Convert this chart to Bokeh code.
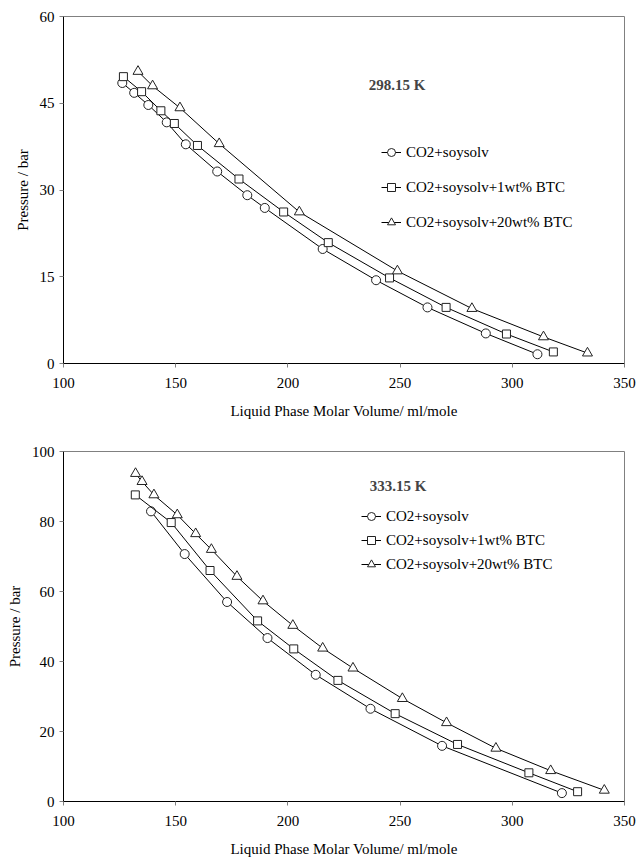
from bokeh.plotting import figure
from bokeh.layouts import column
from bokeh.models import Legend, LegendItem, Label, FixedTicker, Range1d
from bokeh.embed import file_html
from bokeh.resources import INLINE

# ---------------- data: 298.15 K ----------------
t1_x_circ = [126.2, 131.5, 137.8, 146.0, 154.5, 168.5, 181.9, 189.7, 215.5, 239.3, 262.2, 288.2, 311.2]
t1_y_circ = [48.5, 46.8, 44.7, 41.7, 37.9, 33.2, 29.1, 26.9, 19.8, 14.4, 9.7, 5.2, 1.6]
t1_x_sq = [126.7, 134.8, 143.4, 149.4, 159.7, 178.2, 198.1, 218.0, 245.3, 270.5, 297.4, 318.3]
t1_y_sq = [49.6, 47.0, 43.7, 41.5, 37.7, 31.9, 26.2, 20.9, 14.8, 9.7, 5.1, 2.0]
t1_x_tri = [133.2, 139.7, 151.9, 169.4, 205.1, 248.8, 282.0, 313.9, 333.5]
t1_y_tri = [50.5, 48.0, 44.2, 38.0, 26.2, 16.0, 9.5, 4.6, 1.8]

# ---------------- data: 333.15 K ----------------
t2_x_circ = [139.0, 154.0, 172.9, 190.9, 212.4, 236.8, 268.7, 322.1]
t2_y_circ = [82.9, 70.7, 57.0, 46.7, 36.2, 26.5, 15.9, 2.4]
t2_x_sq = [132.0, 148.0, 165.3, 186.5, 202.6, 222.3, 247.8, 275.6, 307.4, 329.1]
t2_y_sq = [87.6, 79.7, 66.0, 51.6, 43.6, 34.6, 25.1, 16.3, 8.2, 2.8]
t2_x_tri = [132.1, 135.0, 140.3, 150.7, 158.9, 165.9, 177.3, 188.9, 202.2, 215.5, 229.0, 251.0, 270.7, 292.7, 317.1, 341.0]
t2_y_tri = [93.7, 91.4, 87.6, 81.9, 76.5, 72.0, 64.3, 57.3, 50.3, 43.8, 38.1, 29.4, 22.5, 15.2, 8.8, 3.2]

series_names = ["CO2+soysolv", "CO2+soysolv+1wt% BTC", "CO2+soysolv+20wt% BTC"]
x_ticks = [100, 150, 200, 250, 300, 350]
y_ticks_1 = [0, 15, 30, 45, 60]
y_ticks_2 = [0, 20, 40, 60, 80, 100]
titles = ["298.15 K", "333.15 K"]
title_pos = [(236, 48.2), (236.5, 90.2)]

FONT = "Liberation Serif"


def make_panel(data, yticks, title, tpos, height, borders, legend_loc, legend_spacing):
    top, bottom, left, right = borders
    p = figure(width=641, height=height, output_backend="svg", toolbar_location=None,
               x_range=Range1d(100, 350), y_range=Range1d(yticks[0], yticks[-1]),
               min_border_top=top, min_border_bottom=bottom,
               min_border_left=left, min_border_right=right)
    p.grid.visible = False
    p.outline_line_color = "#808080"
    p.outline_line_width = 1
    p.background_fill_color = "white"
    p.border_fill_color = "white"

    for ax in (p.xaxis[0], p.yaxis[0]):
        ax.axis_line_color = "black"
        ax.axis_line_width = 1
        ax.major_tick_line_color = "#808080"
        ax.major_tick_in = 0
        ax.major_tick_out = 4
        ax.minor_tick_line_color = None
        ax.major_label_text_font = FONT
        ax.major_label_text_font_size = "15px"
        ax.major_label_text_color = "black"
        ax.axis_label_text_font = FONT
        ax.axis_label_text_font_size = "15px"
        ax.axis_label_text_font_style = "normal"
        ax.axis_label_text_color = "black"
    p.xaxis[0].ticker = FixedTicker(ticks=x_ticks)
    p.yaxis[0].ticker = FixedTicker(ticks=yticks)
    p.xaxis[0].axis_label = "Liquid Phase Molar Volume/ ml/mole"
    p.yaxis[0].axis_label = "Pressure / bar"
    p.xaxis[0].major_label_standoff = 10
    p.xaxis[0].axis_label_standoff = 12
    p.yaxis[0].major_label_standoff = 5
    p.yaxis[0].axis_label_standoff = 6

    items = []
    markers = ["circle", "square", "triangle"]
    sizes = [9, 8, 10]
    for (xs, ys), mk, sz, name in zip(data, markers, sizes, series_names):
        ln = p.line(xs, ys, line_color="black", line_width=1)
        sc = p.scatter(xs, ys, marker=mk, size=sz, line_color="#222222",
                       fill_color="white", line_width=1)
        items.append(LegendItem(label=name, renderers=[ln, sc]))

    legend = Legend(items=items, location=legend_loc)
    legend.label_text_font = FONT
    legend.label_text_font_size = "15px"
    legend.label_text_color = "black"
    legend.border_line_color = None
    legend.background_fill_alpha = 0
    legend.glyph_width = 20
    legend.glyph_height = 20
    legend.label_standoff = 5
    legend.spacing = legend_spacing
    legend.padding = 0
    legend.margin = 0
    p.add_layout(legend, "center")

    lbl = Label(x=tpos[0], y=tpos[1], text=title, text_font=FONT,
                text_font_size="15px", text_font_style="bold",
                text_baseline="middle", text_align="left")
    p.add_layout(lbl)
    return p


p1 = make_panel([(t1_x_circ, t1_y_circ), (t1_x_sq, t1_y_sq), (t1_x_tri, t1_y_tri)],
                y_ticks_1, titles[0], title_pos[0], 430, (16, 67, 63, 11), (318, 131), 15)
p2 = make_panel([(t2_x_circ, t2_y_circ), (t2_x_sq, t2_y_sq), (t2_x_tri, t2_y_tri)],
                y_ticks_2, titles[1], title_pos[1], 429, (21, 57, 62, 17), (298, 227), 4)

layout = column(p1, p2, spacing=0)
open("out.html", "w").write(file_html(layout, INLINE))
